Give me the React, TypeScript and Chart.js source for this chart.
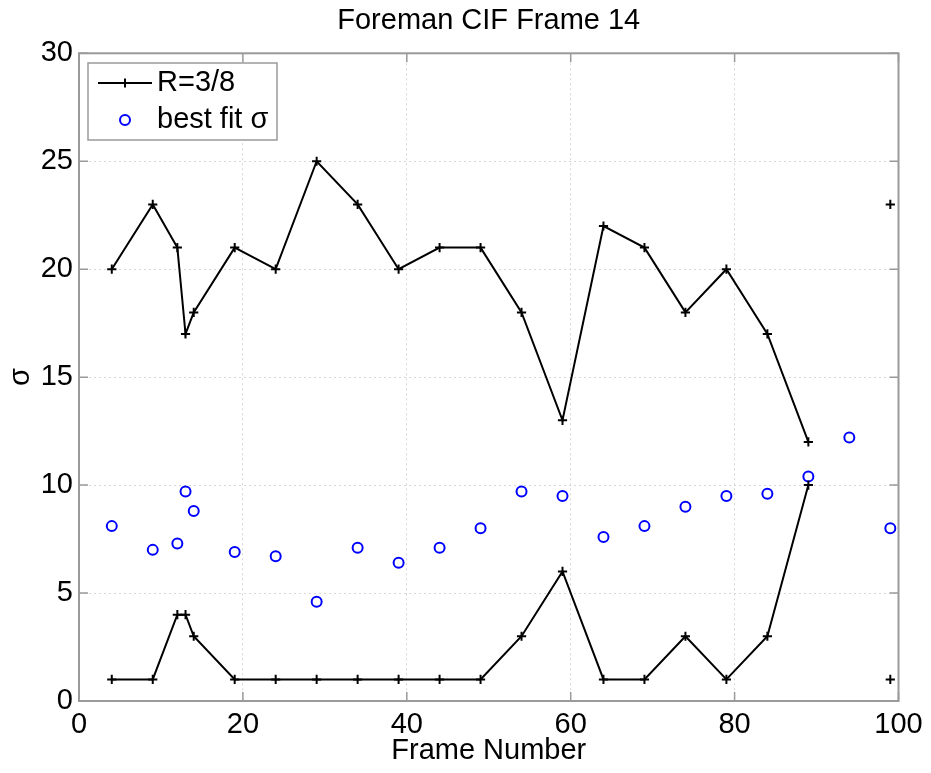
import React, { useEffect, useRef } from 'react';
import { Chart, registerables } from 'chart.js';

Chart.register(...registerables);

// ---- data ----
const FRAMES = [4, 9, 12, 13, 14, 19, 24, 29, 34, 39, 44, 49, 54, 59, 64, 69, 74, 79, 84, 89];
const SIGMA_HIGH = [20, 23, 21, 17, 18, 21, 20, 25, 23, 20, 21, 21, 18, 13, 22, 21, 18, 20, 17, 12];
const SIGMA_LOW = [1, 1, 4, 4, 3, 1, 1, 1, 1, 1, 1, 1, 3, 6, 1, 1, 3, 1, 3, 10];
const EXTRA_FRAMES = [99, 99];
const EXTRA_SIGMA = [23, 1];
const FIT_FRAMES = [4, 9, 12, 13, 14, 19, 24, 29, 34, 39, 44, 49, 54, 59, 64, 69, 74, 79, 84, 89, 94, 99];
const FIT_SIGMA = [8.1, 7.0, 7.3, 9.7, 8.8, 6.9, 6.7, 4.6, 7.1, 6.4, 7.1, 8.0, 9.7, 9.5, 7.6, 8.1, 9.0, 9.5, 9.6, 10.4, 12.2, 8.0];
const X_TICKS = [0, 20, 40, 60, 80, 100];
const Y_TICKS = [0, 5, 10, 15, 20, 25, 30];
const TITLE = 'Foreman CIF Frame 14';
const X_LABEL = 'Frame Number';
const Y_LABEL = 'σ';
const LEGEND_LABELS = ['R=3/8', 'best fit σ'];

const FONT = '"Liberation Sans", Arial, Helvetica, sans-serif';
const AXIS_COLOR = '#9a9a9a';
const GRID_COLOR = '#d6d6d6';

const framePlugin = {
  id: 'matlabFrame',
  beforeDatasetsDraw(chart: any) {
    const { ctx, chartArea, scales } = chart;
    const { left, right, top, bottom } = chartArea;
    const tl = 9;
    ctx.save();
    ctx.strokeStyle = AXIS_COLOR;
    ctx.lineWidth = 1.5;
    ctx.beginPath();
    X_TICKS.forEach((v) => {
      const px = scales.x.getPixelForValue(v);
      ctx.moveTo(px, bottom);
      ctx.lineTo(px, bottom - tl);
      ctx.moveTo(px, top);
      ctx.lineTo(px, top + tl);
    });
    Y_TICKS.forEach((v) => {
      const py = scales.y.getPixelForValue(v);
      ctx.moveTo(left, py);
      ctx.lineTo(left + tl, py);
      ctx.moveTo(right, py);
      ctx.lineTo(right - tl, py);
    });
    ctx.stroke();
    ctx.lineWidth = 2;
    ctx.strokeRect(left, top, right - left, bottom - top);
    ctx.restore();
  },
};

const titlePlugin = {
  id: 'axesTitle',
  afterDraw(chart: any) {
    const { ctx, chartArea } = chart;
    ctx.save();
    ctx.fillStyle = '#000';
    ctx.font = `29px ${FONT}`;
    ctx.textAlign = 'center';
    ctx.textBaseline = 'middle';
    ctx.fillText(TITLE, (chartArea.left + chartArea.right) / 2, 21);
    ctx.restore();
  },
};

function drawCross(ctx: CanvasRenderingContext2D, x: number, y: number, r: number, color: string) {
  ctx.save();
  ctx.strokeStyle = color;
  ctx.lineWidth = 2;
  ctx.beginPath();
  ctx.moveTo(x - r, y);
  ctx.lineTo(x + r, y);
  ctx.moveTo(x, y - r);
  ctx.lineTo(x, y + r);
  ctx.stroke();
  ctx.restore();
}

const legendPlugin = {
  id: 'insideLegend',
  afterDraw(chart: any) {
    const { ctx, chartArea } = chart;
    const bx = chartArea.left + 9;
    const by = chartArea.top + 9.7;
    const bw = 189;
    const bh = 77;
    ctx.save();
    ctx.fillStyle = '#ffffff';
    ctx.fillRect(bx, by, bw, bh);
    ctx.strokeStyle = AXIS_COLOR;
    ctx.lineWidth = 1.5;
    ctx.strokeRect(bx, by, bw, bh);
    const items = chart.data.datasets.filter((d: any) => d.inLegend);
    items.forEach((d: any, i: number) => {
      const cy = by + 20 + i * 37;
      const mx = bx + 37;
      if (d.showLine) {
        ctx.strokeStyle = d.borderColor;
        ctx.lineWidth = 2;
        ctx.beginPath();
        ctx.moveTo(bx + 10, cy);
        ctx.lineTo(bx + 64, cy);
        ctx.stroke();
      }
      if (d.pointStyle === 'cross') {
        drawCross(ctx, mx, cy, 4.6, d.pointBorderColor);
      } else {
        ctx.strokeStyle = d.pointBorderColor;
        ctx.lineWidth = 2;
        ctx.beginPath();
        ctx.arc(mx, cy, 5, 0, Math.PI * 2);
        ctx.stroke();
      }
      ctx.fillStyle = '#000';
      ctx.font = `29px ${FONT}`;
      ctx.textAlign = 'left';
      ctx.textBaseline = 'middle';
      ctx.fillText(d.label, bx + 69, cy);
    });
    ctx.restore();
  },
};

export default function App() {
  const canvasRef = useRef<HTMLCanvasElement | null>(null);

  useEffect(() => {
    if (!canvasRef.current) return;
    Chart.defaults.font.family = FONT;
    Chart.defaults.color = '#000';

    const crossStyle = {
      pointStyle: 'cross',
      pointRadius: 4.6,
      pointHoverRadius: 4.6,
      pointBorderWidth: 2,
      pointBorderColor: '#000',
      pointBackgroundColor: '#000',
    };

    const chart = new Chart(canvasRef.current, {
      type: 'scatter',
      data: {
        datasets: [
          {
            label: LEGEND_LABELS[0],
            inLegend: true,
            data: FRAMES.map((f, i) => ({ x: f, y: SIGMA_HIGH[i] })),
            showLine: true,
            borderColor: '#000',
            borderWidth: 2,
            ...crossStyle,
          } as any,
          {
            label: LEGEND_LABELS[0] + ' low',
            data: FRAMES.map((f, i) => ({ x: f, y: SIGMA_LOW[i] })),
            showLine: true,
            borderColor: '#000',
            borderWidth: 2,
            ...crossStyle,
          } as any,
          {
            label: LEGEND_LABELS[0] + ' extra',
            data: EXTRA_FRAMES.map((f, i) => ({ x: f, y: EXTRA_SIGMA[i] })),
            showLine: false,
            borderColor: '#000',
            ...crossStyle,
          } as any,
          {
            label: LEGEND_LABELS[1],
            inLegend: true,
            data: FIT_FRAMES.map((f, i) => ({ x: f, y: FIT_SIGMA[i] })),
            showLine: false,
            borderColor: '#0000ff',
            pointStyle: 'circle',
            pointRadius: 5,
            pointHoverRadius: 5,
            pointBorderWidth: 2,
            pointBorderColor: '#0000ff',
            pointBackgroundColor: 'rgba(0,0,0,0)',
          } as any,
        ],
      },
      options: {
        animation: false,
        responsive: false,
        events: [],
        layout: { padding: { left: 0, right: 32.5, top: 53.3, bottom: 0 } },
        plugins: {
          legend: { display: false },
          tooltip: { enabled: false },
          title: { display: false },
        },
        scales: {
          x: {
            type: 'linear',
            min: 0,
            max: 100,
            afterBuildTicks: (s: any) => {
              s.ticks = X_TICKS.map((v) => ({ value: v }));
            },
            afterFit: (s: any) => {
              s.height = 72;
              s.paddingLeft = 0;
              s.paddingRight = 0;
            },
            ticks: {
              font: { size: 29, family: FONT },
              color: '#000',
              padding: 7,
              maxRotation: 0,
              autoSkip: false,
            },
            grid: { color: GRID_COLOR, lineWidth: 1, drawTicks: false },
            border: { display: false, dash: [2, 3] },
            title: {
              display: true,
              text: X_LABEL,
              color: '#000',
              font: { size: 29, family: FONT },
              padding: { top: 0, bottom: 5 },
            },
          },
          y: {
            type: 'linear',
            min: 0,
            max: 30,
            afterBuildTicks: (s: any) => {
              s.ticks = Y_TICKS.map((v) => ({ value: v }));
            },
            afterFit: (s: any) => {
              s.width = 79;
              s.paddingTop = 0;
              s.paddingBottom = 0;
            },
            ticks: {
              font: { size: 29, family: FONT },
              color: '#000',
              padding: 6,
              autoSkip: false,
            },
            grid: { color: GRID_COLOR, lineWidth: 1, drawTicks: false },
            border: { display: false, dash: [2, 3] },
            title: {
              display: true,
              text: Y_LABEL,
              color: '#000',
              font: { size: 29, family: FONT },
              padding: { top: 4, bottom: 0 },
            },
          },
        },
      } as any,
      plugins: [framePlugin, legendPlugin, titlePlugin],
    });

    return () => chart.destroy();
  }, []);

  return (
    <div style={{ position: 'absolute', left: 0, top: 0, width: 931, height: 773, background: '#fff' }}>
      <canvas ref={canvasRef} width={931} height={773} style={{ display: 'block' }} />
    </div>
  );
}
